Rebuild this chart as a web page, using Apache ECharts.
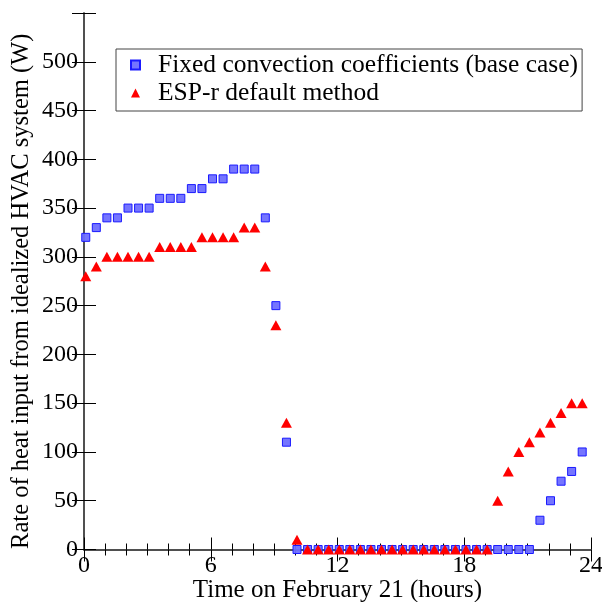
<!DOCTYPE html>
<html>
<head>
<meta charset="utf-8">
<script src="https://cdn.jsdelivr.net/npm/echarts@6/dist/echarts.min.js"></script>
<style>
html,body{margin:0;padding:0;background:#fff;}
#chart{width:602px;height:602px;}
</style>
</head>
<body>
<div id="chart"></div>
<script>
var hours = [0.083,0.583,1.083,1.583,2.083,2.583,3.083,3.583,4.083,4.583,5.083,5.583,6.083,6.583,7.083,7.583,8.083,8.583,9.083,9.583,
  10.083,10.583,11.083,11.583,12.083,12.583,13.083,13.583,14.083,14.583,15.083,15.583,16.083,16.583,17.083,17.583,18.083,18.583,19.083,19.583,
  20.083,20.583,21.083,21.583,22.083,22.583,23.083,23.583];
var fixedConv = [320,330,340,340,350,350,350,360,360,360,370,370,380,380,390,390,390,340,250,110,
  0,0,0,0,0,0,0,0,0,0,0,0,0,0,0,0,0,0,0,0,
  0,0,0,30,50,70,80,100];
var esprDefault = [280,290,300,300,300,300,300,310,310,310,310,320,320,320,320,330,330,290,230,130,
  10,0,0,0,0,0,0,0,0,0,0,0,0,0,0,0,0,0,0,50,
  80,100,110,120,130,140,150,150];
var seriesNames = ['Fixed convection coefficients (base case)', 'ESP-r default method'];
var xTicks = [0, 6, 12, 18, 24];
var yTicks = [0, 50, 100, 150, 200, 250, 300, 350, 400, 450, 500];
var yMax = 550;

function pairs(xs, ys){ return xs.map(function(x,i){ return [x, ys[i]]; }); }

var font = 'Liberation Serif';
var axisLine = {show:true, lineStyle:{color:'#444', width:1.5}};
var chart = echarts.init(document.getElementById('chart'), null, {renderer:'canvas'});
chart.setOption({
  animation:false,
  backgroundColor:'#fff',
  grid:{left:84, right:11, top:13, bottom:52.5, containLabel:false, outerBoundsMode:'none'},
  legend:{
    show:true, orient:'vertical', left:116, top:49,
    borderColor:'#444', borderWidth:1, padding:[3,4,5,14], itemGap:2,
    itemWidth:9, itemHeight:9,
    textStyle:{fontFamily:font, fontSize:25.5, color:'#000', padding:[0,0,0,13]},
    data:[{name:seriesNames[0], icon:'rect'},{name:seriesNames[1], icon:'triangle'}]
  },
  xAxis:[{
    type:'value', min:0, max:24, interval:6, position:'bottom',
    name:'Time on February 21 (hours)', nameLocation:'middle', nameGap:28, nameMoveOverlap:false,
    nameTextStyle:{fontFamily:font, fontSize:25, color:'#000'},
    axisLine:axisLine,
    axisTick:{show:true, inside:true, length:12, lineStyle:{color:'#000', width:1}},
    minorTick:{show:true, splitNumber:6, length:6, lineStyle:{color:'#000', width:1}},
    axisLabel:{fontFamily:font, fontSize:24, color:'#000', margin:4,
      formatter:function(v){ return xTicks.indexOf(v)>=0 ? String(v) : ''; }},
    splitLine:{show:false}
  },{
    type:'value', min:0, max:24, interval:6, position:'top',
    axisLine:axisLine,
    axisTick:{show:true, inside:true, length:12, lineStyle:{color:'#000', width:1}},
    minorTick:{show:true, splitNumber:6, length:6, lineStyle:{color:'#000', width:1}},
    axisLabel:{show:false}, splitLine:{show:false}
  }],
  yAxis:[{
    type:'value', min:0, max:yMax, interval:50, position:'left',
    name:'Rate of heat input from idealized HVAC system (W)', nameLocation:'middle', nameGap:50, nameMoveOverlap:false,
    nameTextStyle:{fontFamily:font, fontSize:24.5, color:'#000', padding:[0,20,0,0]},
    axisLine:axisLine,
    axisTick:{show:true, inside:true, length:12, lineStyle:{color:'#000', width:1}},
    axisLabel:{fontFamily:font, fontSize:24, color:'#000', margin:6,
      formatter:function(v){ return yTicks.indexOf(v)>=0 ? String(v) : ''; }},
    splitLine:{show:false}
  },{
    type:'value', min:0, max:yMax, interval:50, position:'right',
    axisLine:axisLine,
    axisTick:{show:true, inside:true, length:12, lineStyle:{color:'#000', width:1}},
    axisLabel:{show:false}, splitLine:{show:false}
  }],
  series:[{
    name:seriesNames[0], type:'scatter', symbol:'rect', symbolSize:8, clip:false,
    itemStyle:{color:'rgba(110,110,255,0.95)', borderColor:'#1a1aff', borderWidth:1, opacity:1},
    data:pairs(hours, fixedConv)
  },{
    name:seriesNames[1], type:'scatter', symbol:'triangle', symbolSize:[11,10], clip:false,
    itemStyle:{color:'#ff0000', opacity:1},
    data:pairs(hours, esprDefault)
  }]
});
</script>
</body>
</html>
